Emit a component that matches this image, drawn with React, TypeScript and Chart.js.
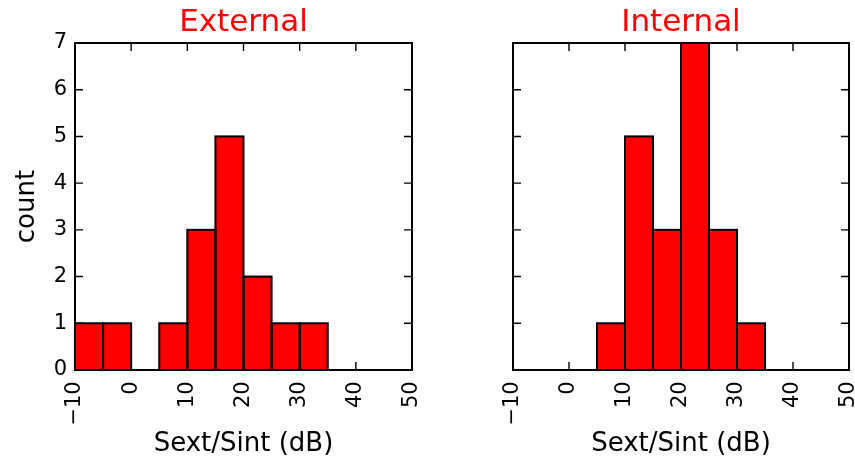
import React, { useEffect, useRef } from "react";
import { Chart, registerables } from "chart.js";

Chart.register(...registerables);

const binCenters = [-7.5, -2.5, 2.5, 7.5, 12.5, 17.5, 22.5, 27.5, 32.5];
const externalCounts = [1, 1, 0, 1, 3, 5, 2, 1, 1];
const internalCounts = [0, 0, 0, 1, 5, 3, 7, 3, 1];
const xTicks = [-10, 0, 10, 20, 30, 40, 50];
const yTicks = [0, 1, 2, 3, 4, 5, 6, 7];
const panelTitles = ["External", "Internal"];
const xLabel = "Sext/Sint (dB)";
const yLabel = "count";

const FONT = "'DejaVu Sans', sans-serif";

const fmt = (v: number) => (v < 0 ? "\u2212" + Math.abs(v) : String(v));

const framePlugin = {
  id: "frameTicks",
  afterDatasetsDraw(chart: any) {
    const { ctx, chartArea, scales } = chart;
    const { left, right, top, bottom } = chartArea;
    const x = scales.x;
    const y = scales.y;
    ctx.save();
    // bar edges centred on bin boundaries (matplotlib style)
    const meta = chart.getDatasetMeta(0);
    ctx.strokeStyle = "#000";
    ctx.lineWidth = 2;
    for (const el of meta.data as any[]) {
      const p = el.getProps(["x", "y", "base", "width"], true);
      if (Math.abs(p.base - p.y) < 0.5) continue;
      ctx.strokeRect(p.x - p.width / 2, p.y, p.width, p.base - p.y);
    }
    ctx.lineWidth = 2;
    ctx.strokeRect(left, top, right - left, bottom - top);
    ctx.lineWidth = 1.4;
    ctx.beginPath();
    const L = 8;
    for (const v of xTicks) {
      const px = x.getPixelForValue(v);
      ctx.moveTo(px, bottom);
      ctx.lineTo(px, bottom - L);
      ctx.moveTo(px, top);
      ctx.lineTo(px, top + L);
    }
    for (const v of yTicks) {
      const py = y.getPixelForValue(v);
      ctx.moveTo(left, py);
      ctx.lineTo(left + L, py);
      ctx.moveTo(right, py);
      ctx.lineTo(right - L, py);
    }
    ctx.stroke();
    ctx.restore();
  },
};

type PanelProps = {
  title: string;
  counts: number[];
  showY: boolean;
  width: number;
  leftW: number;
  rightPad: number;
  left: number;
};

function Panel({ title, counts, showY, width, leftW, rightPad, left }: PanelProps) {
  const ref = useRef<HTMLCanvasElement>(null);
  useEffect(() => {
    if (!ref.current) return;
    const chart = new Chart(ref.current, {
      type: "bar",
      data: {
        datasets: [
          {
            data: binCenters.map((c, i) => ({ x: c, y: counts[i] })),
            backgroundColor: "#ff0000",
            borderWidth: 0,
            inflateAmount: 0,
            barPercentage: 1,
            categoryPercentage: 1,
          },
        ],
      },
      plugins: [framePlugin],
      options: {
        responsive: false,
        animation: false,
        devicePixelRatio: 1,
        layout: { padding: { left: 0, right: rightPad, top: 0, bottom: 0 } },
        plugins: {
          legend: { display: false },
          tooltip: { enabled: false },
          title: {
            display: true,
            text: title,
            color: "#ff0000",
            fullSize: false,
            font: { family: FONT, size: 31, weight: "normal", lineHeight: 1.2 },
            padding: { top: 4.5, bottom: 1.3 },
          },
        },
        scales: {
          x: {
            type: "linear",
            min: -10,
            max: 50,
            offset: false,
            grid: { display: false, drawTicks: false, offset: false },
            border: { display: false },
            ticks: {
              stepSize: 10,
              autoSkip: false,
              minRotation: 90,
              maxRotation: 90,
              padding: 11.3,
              color: "#000",
              font: { family: FONT, size: 21 },
              callback: (v: any) => fmt(Number(v)),
            },
            title: {
              display: true,
              text: xLabel,
              color: "#000",
              font: { family: FONT, size: 26 },
              padding: { top: 0, bottom: 2 },
            },
            afterFit: (s: any) => {
              s.height = 92;
              s.paddingLeft = 0;
              s.paddingRight = 0;
            },
          },
          y: {
            type: "linear",
            min: 0,
            max: 7,
            grid: { display: false, drawTicks: false },
            border: { display: false },
            ticks: {
              display: showY,
              stepSize: 1,
              padding: 8,
              color: "#000",
              font: { family: FONT, size: 21 },
              callback: (v: any) => fmt(Number(v)),
            },
            title: {
              display: showY,
              text: yLabel,
              color: "#000",
              font: { family: FONT, size: 26 },
              padding: { top: 12, bottom: 0 },
            },
            afterFit: (s: any) => {
              s.width = leftW;
              s.paddingTop = 0;
              s.paddingBottom = 0;
            },
          },
        },
      } as any,
    });
    return () => chart.destroy();
  }, []);
  return (
    <canvas
      ref={ref}
      width={width}
      height={462}
      style={{ position: "absolute", left, top: 0, width, height: 462 }}
    />
  );
}

export default function App() {
  return (
    <div
      style={{
        position: "fixed",
        left: 0,
        top: 0,
        width: 855,
        height: 462,
        background: "#fff",
      }}
    >
      <Panel title={panelTitles[0]} counts={externalCounts} showY={true} width={430} leftW={75} rightPad={18} left={0} />
      <Panel title={panelTitles[1]} counts={internalCounts} showY={false} width={425} leftW={83} rightPad={6} left={430} />
    </div>
  );
}
